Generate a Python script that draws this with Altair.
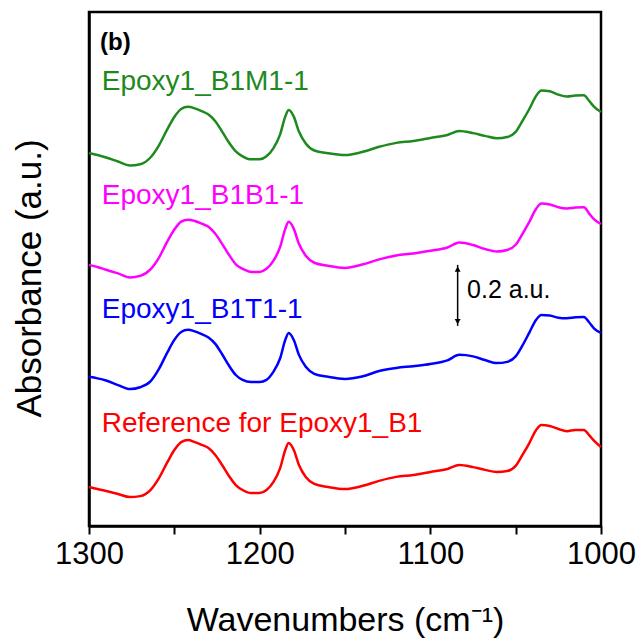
import altair as alt
import pandas as pd

# Wavenumber grid (cm^-1)
wavenumber = [1300, 1295, 1290, 1283, 1276, 1270, 1264, 1259, 1254, 1250,
              1246, 1242, 1238, 1234, 1230, 1226, 1222, 1218, 1214, 1210,
              1205, 1200, 1196, 1192, 1188, 1185, 1183, 1180, 1177, 1173,
              1168, 1160, 1150, 1140, 1130, 1120, 1110, 1100, 1090, 1083,
              1075, 1068, 1061, 1055, 1050, 1046, 1042, 1038, 1035, 1030,
              1025, 1020, 1015, 1010, 1007, 1004, 1000]

# Offset absorbance traces (a.u.)
reference = [0.128, 0.121, 0.115, 0.105, 0.095, 0.098, 0.118, 0.157, 0.210, 0.249,
             0.275, 0.282, 0.275, 0.266, 0.256, 0.233, 0.200, 0.164, 0.134, 0.118,
             0.108, 0.108, 0.118, 0.144, 0.190, 0.249, 0.272, 0.249, 0.200, 0.161,
             0.138, 0.128, 0.121, 0.131, 0.148, 0.161, 0.167, 0.177, 0.187, 0.200,
             0.193, 0.184, 0.177, 0.180, 0.197, 0.233, 0.272, 0.315, 0.331, 0.328,
             0.318, 0.311, 0.315, 0.315, 0.298, 0.279, 0.259]
b1t1 = [0.489, 0.484, 0.477, 0.462, 0.449, 0.455, 0.474, 0.515, 0.570, 0.610,
        0.636, 0.643, 0.638, 0.629, 0.618, 0.597, 0.563, 0.526, 0.495, 0.479,
        0.472, 0.472, 0.479, 0.505, 0.550, 0.610, 0.633, 0.610, 0.561, 0.522,
        0.499, 0.489, 0.482, 0.490, 0.508, 0.518, 0.524, 0.531, 0.543, 0.561,
        0.556, 0.544, 0.534, 0.538, 0.556, 0.592, 0.634, 0.676, 0.692, 0.690,
        0.683, 0.681, 0.684, 0.685, 0.668, 0.647, 0.633]
b1b1 = [0.856, 0.849, 0.840, 0.828, 0.815, 0.820, 0.841, 0.880, 0.934, 0.972,
        0.998, 1.004, 1.000, 0.991, 0.981, 0.958, 0.925, 0.889, 0.858, 0.843,
        0.833, 0.833, 0.843, 0.869, 0.915, 0.974, 0.997, 0.974, 0.925, 0.886,
        0.863, 0.853, 0.846, 0.857, 0.874, 0.887, 0.893, 0.902, 0.913, 0.929,
        0.921, 0.908, 0.900, 0.905, 0.922, 0.958, 0.997, 1.040, 1.057, 1.054,
        1.045, 1.041, 1.044, 1.045, 1.025, 1.005, 0.990]
b1m1 = [1.223, 1.216, 1.208, 1.195, 1.182, 1.186, 1.208, 1.248, 1.302, 1.341,
        1.367, 1.374, 1.369, 1.360, 1.349, 1.327, 1.293, 1.257, 1.228, 1.212,
        1.202, 1.202, 1.212, 1.238, 1.284, 1.342, 1.364, 1.342, 1.293, 1.254,
        1.231, 1.222, 1.216, 1.226, 1.243, 1.256, 1.262, 1.272, 1.282, 1.295,
        1.288, 1.279, 1.271, 1.275, 1.292, 1.328, 1.367, 1.410, 1.428, 1.425,
        1.414, 1.408, 1.411, 1.412, 1.394, 1.374, 1.357]

series_names = ["Reference for Epoxy1_B1", "Epoxy1_B1T1-1", "Epoxy1_B1B1-1", "Epoxy1_B1M1-1"]
series_colors = ["#FF0000", "#0000FF", "#FF00FF", "#1E8A1E"]
series_values = [reference, b1t1, b1b1, b1m1]

# Label positions (data coords)
label_x = [1292.5, 1292.5, 1292.5, 1292.5]
label_y = [0.308, 0.682, 1.056, 1.430]

rows = []
for name, vals in zip(series_names, series_values):
    for w, v in zip(wavenumber, vals):
        rows.append({"wn": w, "abs": v, "series": name})
df = pd.DataFrame(rows)

labels_df = pd.DataFrame({"wn": label_x, "abs": label_y, "series": series_names})

color_scale = alt.Scale(domain=series_names, range=series_colors)
x_scale = alt.Scale(domain=[1000, 1300], reverse=True, nice=False, zero=False)
y_scale = alt.Scale(domain=[0, 1.685], nice=False, zero=False)

x_enc = alt.X("wn:Q", scale=x_scale,
              axis=alt.Axis(title="Wavenumbers (cm⁻¹)", values=[1300, 1250, 1200, 1150, 1100, 1050, 1000],
                            labelExpr="datum.value % 100 == 0 ? datum.label : ''",
                            format="d", grid=False, tickSize=8, tickWidth=2, tickColor="black",
                            domainColor="black", domainWidth=2.5, labelFontSize=31,
                            labelColor="black", labelPadding=5, labelFont="Liberation Sans",
                            labelFlush=False, labelAlign="center", labelOverlap=False,
                            titleFontSize=34, titleFont="Liberation Sans", titleFontWeight="normal",
                            titleColor="black", titleBaseline="alphabetic", titleY=104))
y_enc = alt.Y("abs:Q", scale=y_scale,
              axis=alt.Axis(title="Absorbance (a.u.)", labels=False, ticks=False, grid=False,
                            domainColor="black", domainWidth=2.5, titleFontSize=35,
                            titleFont="Liberation Sans", titleFontWeight="normal", titleColor="black",
                            titleBaseline="alphabetic", titleX=-49, titleY=266, titleAlign="center",
                            titleAngle=270))

lines = alt.Chart(df).mark_line(strokeWidth=2.5, interpolate="monotone").encode(
    x=x_enc, y=y_enc,
    color=alt.Color("series:N", scale=color_scale, legend=None),
    detail="series:N",
)

labels = alt.Chart(labels_df).mark_text(align="left", baseline="alphabetic", fontSize=28,
                                        font="Liberation Sans").encode(
    x=alt.X("wn:Q", scale=x_scale), y=alt.Y("abs:Q", scale=y_scale),
    color=alt.Color("series:N", scale=color_scale, legend=None),
    text="series:N",
)

panel_df = pd.DataFrame({"wn": [1293.5], "abs": [1.561], "t": ["(b)"]})
panel = alt.Chart(panel_df).mark_text(align="left", baseline="alphabetic", fontSize=24,
                                      fontWeight="bold", font="Liberation Sans", color="black").encode(
    x=alt.X("wn:Q", scale=x_scale), y=alt.Y("abs:Q", scale=y_scale), text="t:N")

# Scale bar 0.2 a.u.
bar_x = [1084]
bar_y0 = [0.656]
bar_y1 = [0.856]
bar_df = pd.DataFrame({"wn": bar_x, "y0": bar_y0, "y1": bar_y1})
bar = alt.Chart(bar_df).mark_rule(color="black", strokeWidth=1.5).encode(
    x=alt.X("wn:Q", scale=x_scale), y=alt.Y("y0:Q", scale=y_scale), y2="y1:Q")
head_df = pd.DataFrame({"wn": [1084, 1084], "abs": [0.842, 0.670],
                        "shape": ["triangle-up", "triangle-down"]})
heads = alt.Chart(head_df).mark_point(filled=True, color="black", size=35, opacity=1).encode(
    x=alt.X("wn:Q", scale=x_scale), y=alt.Y("abs:Q", scale=y_scale),
    shape=alt.Shape("shape:N", scale=None))
bar_text_df = pd.DataFrame({"wn": [1078.5], "abs": [0.748], "t": ["0.2 a.u."]})
bar_text = alt.Chart(bar_text_df).mark_text(align="left", baseline="alphabetic", fontSize=25,
                                            font="Liberation Sans", color="black").encode(
    x=alt.X("wn:Q", scale=x_scale), y=alt.Y("abs:Q", scale=y_scale), text="t:N")

chart = alt.layer(lines, labels, panel, bar, heads, bar_text).properties(
    width=512, height=514,
    padding={"left": 89, "top": 12, "right": 41, "bottom": 113},
    autosize=alt.AutoSizeParams(type="none"),
    background="white",
).configure_view(stroke="black", strokeWidth=2.5)

chart.save("out.html", embed_options={"renderer": "svg", "actions": False})
